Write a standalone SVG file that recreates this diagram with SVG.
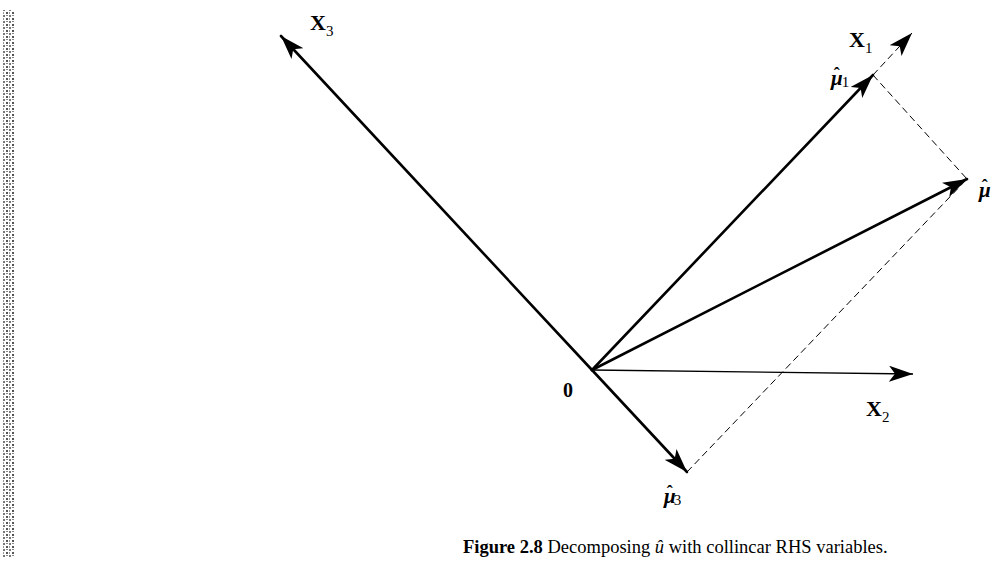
<svg xmlns="http://www.w3.org/2000/svg" width="992" height="566" viewBox="0 0 992 566">
<style>
.v{stroke:#000;stroke-width:2.6;fill:none;stroke-linecap:round}
.t{stroke:#000;stroke-width:1.4;fill:none}
.d{stroke:#000;stroke-width:1;fill:none;stroke-dasharray:7 4}
.lab{font-family:"Liberation Serif","Times New Roman",serif;font-weight:bold;fill:#000}
.mu{font-family:"Liberation Serif","DejaVu Serif",serif;font-weight:bold;font-style:italic;fill:#000;font-size:21px}
.hat{font-style:normal;font-size:18px}
.sub{font-family:"Liberation Serif","Times New Roman",serif;font-style:normal;font-weight:normal;fill:#000;font-size:15px}
.cap{font-family:"Liberation Serif","Times New Roman",serif;font-size:18.5px;fill:#000}
</style>
<defs>
<marker id="ah" markerUnits="userSpaceOnUse" markerWidth="26" markerHeight="16" refX="24" refY="8" orient="auto">
<path d="M0,0 L24,8 L0,16 L6,8 z" fill="#000"/>
</marker>
<pattern id="noise" width="6" height="6" patternUnits="userSpaceOnUse">
<rect width="6" height="6" fill="#fff"/>
<rect x="0" y="0" width="2" height="2" fill="#555"/>
<rect x="3" y="3" width="2" height="2" fill="#777"/>
<rect x="3" y="0" width="1" height="2" fill="#999"/>
<rect x="0" y="3" width="2" height="1" fill="#888"/>
</pattern>
</defs>
<rect x="3" y="10" width="12" height="548" fill="url(#noise)"/>
<g id="connectors">
<line class="v" x1="592" y1="370" x2="281" y2="36" marker-end="url(#ah)"/>
<line class="v" x1="592" y1="370" x2="873" y2="75" marker-end="url(#ah)"/>
<line class="d" x1="873" y1="75" x2="912" y2="33" marker-end="url(#ah)"/>
<line class="v" x1="592" y1="370" x2="967" y2="179" marker-end="url(#ah)"/>
<line class="t" x1="592" y1="370" x2="913" y2="374" marker-end="url(#ah)"/>
<line class="v" x1="592" y1="370" x2="687" y2="472" marker-end="url(#ah)"/>
<line class="d" x1="873" y1="75" x2="967" y2="179"/>
<line class="d" x1="687" y1="472" x2="967" y2="179"/>
</g>
<g id="X3"><text class="lab" x="310" y="30" font-size="22">X<tspan class="sub" dy="6">3</tspan></text></g>
<g id="X1"><text class="lab" x="849" y="47" font-size="22">X<tspan class="sub" dy="6">1</tspan></text></g>
<g id="X2"><text class="lab" x="866" y="416" font-size="22">X<tspan class="sub" dy="6">2</tspan></text></g>
<g id="origin"><text class="lab" x="563" y="397" font-size="20">0</text></g>
<g id="mu1"><text class="mu" x="831" y="85">μ<tspan class="hat" dx="-9" dy="-5">ˆ</tspan><tspan class="sub" dx="2" dy="7">1</tspan></text></g>
<g id="mu"><text class="mu" x="979" y="197">μ<tspan class="hat" dx="-9" dy="-5">ˆ</tspan></text></g>
<g id="mu3"><text class="mu" x="664" y="503">μ<tspan class="hat" dx="-9" dy="-5">ˆ</tspan><tspan class="sub" dx="1" dy="7">3</tspan></text></g>
<g id="caption"><text class="cap" x="463" y="553"><tspan font-weight="bold">Figure 2.8</tspan>  Decomposing <tspan font-style="italic">û</tspan> with collincar RHS variables.</text></g>
</svg>
